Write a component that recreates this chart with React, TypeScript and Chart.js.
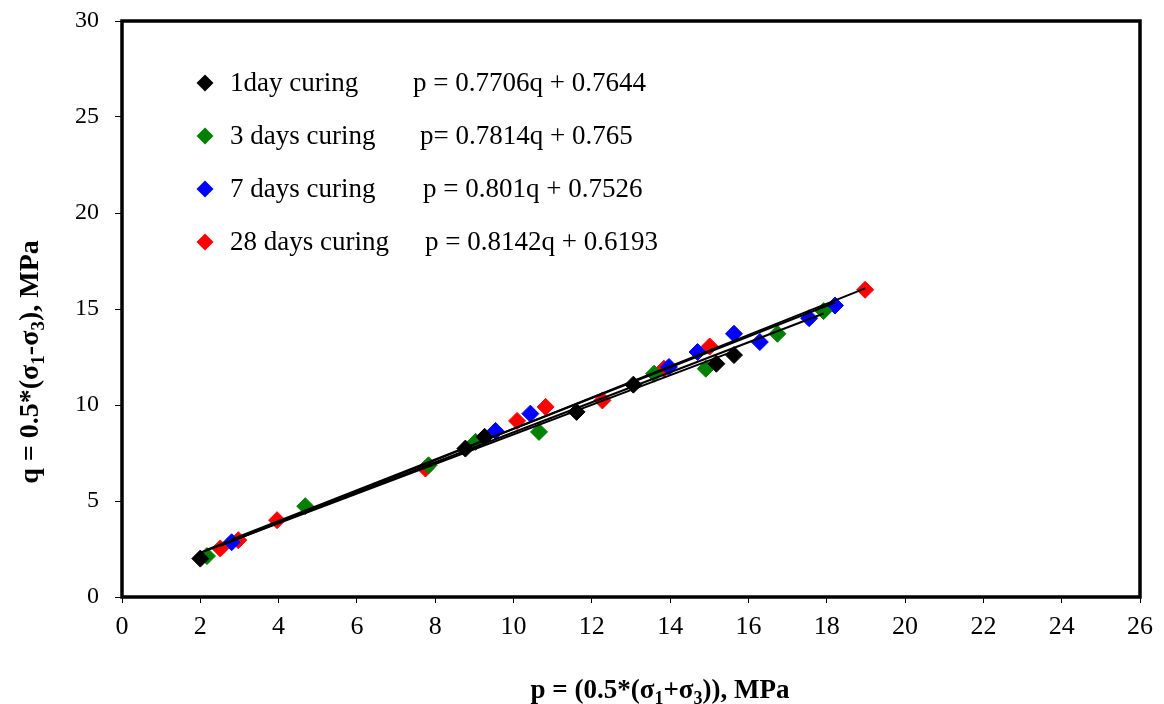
import React, { useEffect, useRef } from 'react';
import { Chart, registerables } from 'chart.js';

Chart.register(...registerables);

// ---- data ----
const seriesNames = ['1day curing', '3 days curing', '7 days curing', '28 days curing'];
const seriesColors = ['#000000', '#008000', '#0000FF', '#FF0000'];
const equations = ['p = 0.7706q + 0.7644', 'p= 0.7814q + 0.765', 'p = 0.801q + 0.7526', 'p = 0.8142q + 0.6193'];
const slopes = [0.7706, 0.7814, 0.801, 0.8142];
const intercepts = [0.7644, 0.765, 0.7526, 0.6193];

const p1day = [2.0, 8.77, 9.26, 11.61, 13.06, 15.18, 15.63];
const q1day = [2.0, 7.73, 8.34, 9.64, 11.06, 12.15, 12.6];

const p3day = [2.17, 4.68, 7.83, 9.03, 10.65, 13.59, 14.91, 16.74, 17.92];
const q3day = [2.13, 4.73, 6.86, 8.08, 8.6, 11.63, 11.89, 13.71, 14.89];

const p7day = [2.8, 9.54, 10.43, 13.97, 14.7, 15.63, 16.29, 17.55, 18.21];
const q7day = [2.85, 8.65, 9.55, 11.98, 12.76, 13.71, 13.28, 14.52, 15.18];

const p28day = [2.51, 2.97, 3.96, 7.75, 10.09, 10.82, 12.27, 13.84, 15.01, 18.98];
const q28day = [2.53, 2.96, 4.0, 6.69, 9.17, 9.9, 10.24, 11.89, 13.05, 16.0];

const pSeries = [p1day, p3day, p7day, p28day];
const qSeries = [q1day, q3day, q7day, q28day];

const xMin = 0, xMax = 26, xStep = 2;
const yMin = 0, yMax = 30, yStep = 5;

const FONT = "'Liberation Serif', 'Times New Roman', serif";

type Seg = { t: string; sub?: boolean };
const xTitle: Seg[] = [{ t: 'p = (0.5*(σ' }, { t: '1', sub: true }, { t: '+σ' }, { t: '3', sub: true }, { t: ')), MPa' }];
const yTitle: Seg[] = [{ t: 'q = 0.5*(σ' }, { t: '1', sub: true }, { t: '-σ' }, { t: '3', sub: true }, { t: '), MPa' }];

function drawRich(ctx: CanvasRenderingContext2D, segs: Seg[], cx: number, baseline: number, size: number) {
  const main = `bold ${size}px ${FONT}`;
  const sub = `bold ${Math.round(size * 0.68)}px ${FONT}`;
  let w = 0;
  for (const s of segs) {
    ctx.font = s.sub ? sub : main;
    w += ctx.measureText(s.t).width;
  }
  let x = cx - w / 2;
  ctx.textAlign = 'left';
  ctx.textBaseline = 'alphabetic';
  for (const s of segs) {
    ctx.font = s.sub ? sub : main;
    ctx.fillText(s.t, x, baseline + (s.sub ? size * 0.22 : 0));
    x += ctx.measureText(s.t).width;
  }
}

const decorPlugin = {
  id: 'decor',
  afterDatasetsDraw(chart: any) {
    const { ctx, chartArea } = chart;
    const { left, right, top, bottom } = chartArea;
    ctx.save();
    // frame
    ctx.strokeStyle = '#000';
    ctx.lineWidth = 3.5;
    ctx.strokeRect(left, top, right - left, bottom - top);

    // legend
    const rowsY = [83, 136, 189, 242];
    const eqX = [413, 420, 423, 425];
    for (let i = 0; i < seriesNames.length; i++) {
      const y = rowsY[i];
      const mx = 205;
      const r = 8.5;
      ctx.fillStyle = seriesColors[i];
      ctx.beginPath();
      ctx.moveTo(mx - r, y);
      ctx.lineTo(mx, y - r);
      ctx.lineTo(mx + r, y);
      ctx.lineTo(mx, y + r);
      ctx.closePath();
      ctx.fill();
      ctx.fillStyle = '#000';
      ctx.font = `27px ${FONT}`;
      ctx.textAlign = 'left';
      ctx.textBaseline = 'middle';
      ctx.fillText(seriesNames[i], 230, y + 1);
      ctx.fillText(equations[i], eqX[i], y + 1);
    }

    // axis titles
    ctx.fillStyle = '#000';
    drawRich(ctx, xTitle, 660, 698, 27);
    ctx.save();
    ctx.translate(38, 362);
    ctx.rotate(-Math.PI / 2);
    drawRich(ctx, yTitle, 0, 0, 28);
    ctx.restore();
    ctx.restore();
  },
};

export default function App() {
  const ref = useRef<HTMLCanvasElement>(null);

  useEffect(() => {
    if (!ref.current) return;
    const pointSets = pSeries.map((ps, i) => ({
      type: 'scatter' as const,
      label: seriesNames[i],
      data: ps.map((p, j) => ({ x: p, y: qSeries[i][j] })),
      pointStyle: 'rectRot' as const,
      pointRadius: 8.5,
      pointBorderWidth: 1,
      backgroundColor: seriesColors[i],
      borderColor: seriesColors[i],
      showLine: false,
      order: 2,
    }));
    const lineSets = pSeries.map((ps, i) => {
      const lo = Math.min(...ps);
      const hi = Math.max(...ps);
      return {
        type: 'scatter' as const,
        label: seriesNames[i] + ' fit',
        data: [
          { x: lo, y: slopes[i] * lo + intercepts[i] },
          { x: hi, y: slopes[i] * hi + intercepts[i] },
        ],
        showLine: true,
        borderColor: '#000',
        borderWidth: 2,
        pointRadius: 0,
        order: 1,
      };
    });

    const chart = new Chart(ref.current, {
      type: 'scatter',
      data: { datasets: [...lineSets, ...pointSets] as any },
      options: {
        animation: false,
        responsive: false,
        layout: { padding: { top: 21, right: 24, left: 0, bottom: 0 } },
        plugins: { legend: { display: false }, tooltip: { enabled: false } },
        scales: {
          x: {
            type: 'linear',
            min: xMin,
            max: xMax,
            ticks: { stepSize: xStep, color: '#000', font: { family: FONT, size: 26 }, padding: 9, maxRotation: 0 },
            grid: { drawOnChartArea: false, drawTicks: true, tickLength: 6, color: '#000', lineWidth: 1 },
            border: { display: false },
            afterFit: (s: any) => { s.height = 107; s.paddingLeft = 0; s.paddingRight = 0; },
          },
          y: {
            type: 'linear',
            min: yMin,
            max: yMax,
            ticks: { stepSize: yStep, color: '#000', font: { family: FONT, size: 24 }, padding: 16 },
            grid: { drawOnChartArea: false, drawTicks: true, tickLength: 7, color: '#000', lineWidth: 1 },
            border: { display: false },
            afterFit: (s: any) => { s.width = 122; s.paddingTop = 0; s.paddingBottom = 0; },
          },
        },
      },
      plugins: [decorPlugin],
    });
    return () => chart.destroy();
  }, []);

  return (
    <div style={{ position: 'absolute', left: 0, top: 0, width: 1164, height: 704, background: '#fff' }}>
      <canvas ref={ref} width={1164} height={704} />
    </div>
  );
}
